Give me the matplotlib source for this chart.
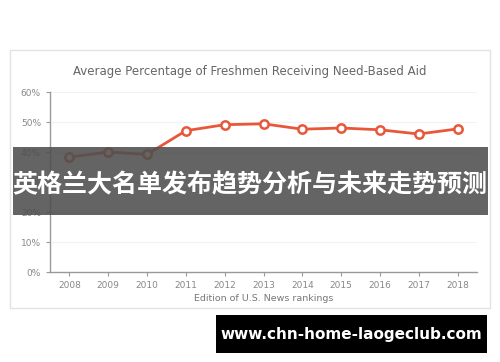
import matplotlib.pyplot as plt
from matplotlib.patches import Rectangle
from matplotlib.ticker import FuncFormatter

years = [2008, 2009, 2010, 2011, 2012, 2013, 2014, 2015, 2016, 2017, 2018]
pct_aid = [38.3, 40.0, 39.2, 47.1, 49.1, 49.4, 47.6, 48.0, 47.4, 46.0, 47.7]
y_ticks = [0, 10, 20, 30, 40, 50, 60]

title = "Average Percentage of Freshmen Receiving Need-Based Aid"
x_label = "Edition of U.S. News rankings"
banner = "英格兰大名单发布趋势分析与未来走势预测"
site = "www.chn-home-laogeclub.com"

W, H = 500, 362
fig = plt.figure(figsize=(W / 100, H / 100), dpi=100)
fig.patch.set_facecolor("white")

# card frame
fig.patches.append(Rectangle((10 / W, 1 - 308 / H), 480 / W, 258 / H,
                             transform=fig.transFigure, facecolor="white",
                             edgecolor="#e2e2e2", lw=1, zorder=-5))

ax = fig.add_axes([50 / W, 1 - 272 / H, 427 / W, 180 / H])
ax.patch.set_alpha(0)
ax.plot(years, pct_aid, color="#e8573a", lw=2, marker="o", ms=6,
        mfc="white", mec="#e8573a", mew=1.8, zorder=3, clip_on=False)
ax.set_xlim(2007.5, 2018.5)
ax.set_ylim(0, 60)
ax.set_xticks(years)
ax.set_yticks(y_ticks)
ax.yaxis.set_major_formatter(FuncFormatter(lambda v, p: f"{int(v)}%"))
ax.grid(axis="y", color="#f2f2f2", lw=0.8)
ax.set_axisbelow(True)
for s in ["top", "right"]:
    ax.spines[s].set_visible(False)
for s in ["left", "bottom"]:
    ax.spines[s].set_color("#9a9a9a")
    ax.spines[s].set_linewidth(1)
ax.tick_params(colors="#9a9a9a", labelcolor="#888888", labelsize=6.5, length=3)
ax.set_xlabel(x_label, fontsize=6.8, color="#777777", labelpad=3)
fig.text(250 / W, 1 - 72 / H, title, ha="center", va="center",
         fontsize=8.5, color="#666666")

# overlay banner
fig.patches.append(Rectangle((13 / W, 1 - 215 / H), 475 / W, 68 / H,
                             transform=fig.transFigure, facecolor="#4e4e4e",
                             alpha=0.88, zorder=10))
fig.text(250 / W, 1 - 185 / H, banner, ha="center", va="center",
         fontsize=18, color="white", fontweight="bold", zorder=11,
         family=["Noto Sans CJK SC", "DejaVu Sans"])

# watermark box
fig.patches.append(Rectangle((216 / W, 1 - 353 / H), 271 / W, 38 / H,
                             transform=fig.transFigure, facecolor="black",
                             zorder=10))
fig.text(351 / W, 1 - 334 / H, site, ha="center", va="center",
         fontsize=11, color="white", fontweight="bold", zorder=11)

fig.savefig("out.png", dpi=100, facecolor="white")
